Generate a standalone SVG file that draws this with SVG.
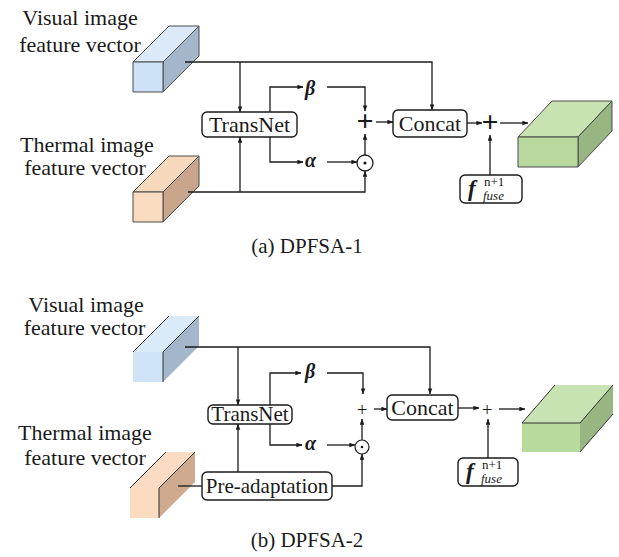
<svg xmlns="http://www.w3.org/2000/svg" width="619" height="557" viewBox="0 0 619 557">
  <style>
    .box { fill: #ffffff; stroke: #1a1a1a; stroke-width: 1.4; }
    .wire { fill: none; stroke: #1a1a1a; stroke-width: 1.3; }
    .arr { fill: none; stroke: #1a1a1a; stroke-width: 1.3; marker-end: url(#head); }
    .edge { stroke: #4a4a4a; stroke-width: 1; stroke-linejoin: round; }
    .edgeb { stroke: #333; stroke-width: 1; fill: none; }
  </style>
  <defs>
    <marker id="head" viewBox="0 0 8 6" refX="7.5" refY="3" markerWidth="6" markerHeight="5" markerUnits="userSpaceOnUse" orient="auto">
      <path d="M0,0 L8,3 L0,6 Z" fill="#1a1a1a"/>
    </marker>
  </defs>

  <rect width="619" height="557" fill="#ffffff"/>

  <!-- ===== (a) DPFSA-1 ===== -->
  <g id="a-labels">
    <text x="80" y="25" text-anchor="middle" fill="#1a1a1a" font-family="Liberation Serif" font-size="22">Visual image</text>
    <text x="80" y="52" text-anchor="middle" fill="#1a1a1a" font-family="Liberation Serif" font-size="22">feature vector</text>
    <text x="87" y="152" text-anchor="middle" fill="#1a1a1a" font-family="Liberation Serif" font-size="22">Thermal image</text>
    <text x="85" y="175" text-anchor="middle" fill="#1a1a1a" font-family="Liberation Serif" font-size="22">feature vector</text>
  </g>

  <g id="a-visual-cube" class="edge">
    <polygon points="133,62 169,26 199,26 163,62" fill="#dbe9f8"/>
    <polygon points="163,62 199,26 199,56 163,92" fill="#a3b6ca"/>
    <rect x="133" y="62" width="30" height="30" fill="#cde2f7"/>
  </g>
  <g id="a-thermal-cube" class="edge">
    <polygon points="133,192 169,156 199,156 163,192" fill="#f6d9bd"/>
    <polygon points="163,192 199,156 199,186 163,222" fill="#c9a58c"/>
    <rect x="133" y="192" width="30" height="30" fill="#f9dcc0"/>
  </g>
  <g id="a-output-cube" class="edge">
    <polygon points="518,137 552,101 612,101 578,137" fill="#c8e2b1"/>
    <polygon points="578,137 612,101 612,131 578,167" fill="#98b682"/>
    <rect x="518" y="137" width="60" height="30" fill="#b9d89e"/>
  </g>

  <g id="a-connectors">
    <path class="arr" d="M185,62 H432 V110"/>
    <path class="arr" d="M240,62 V112"/>
    <path class="arr" d="M188,192 H365 V171"/>
    <path class="arr" d="M240,192 V137"/>
    <path class="arr" d="M270,112 V87 H303"/>
    <path class="arr" d="M270,137 V162 H303"/>
    <path class="arr" d="M327,87 H365 V111"/>
    <path class="arr" d="M327,162 H357"/>
    <path class="arr" d="M365,155 V134"/>
    <path class="arr" d="M376,122 H393"/>
    <path class="arr" d="M467,123 H482"/>
    <path class="arr" d="M500,123 H528"/>
    <path class="arr" d="M490,175 V135"/>
  </g>

  <g id="a-transnet">
    <rect class="box" x="202" y="112" width="95" height="25" rx="5"/>
    <text x="249.5" y="132" text-anchor="middle" fill="#1a1a1a" font-family="Liberation Serif" font-size="22">TransNet</text>
  </g>
  <g id="a-beta"><text x="305" y="95" fill="#1a1a1a" font-family="Liberation Serif" font-size="20" font-weight="bold" font-style="italic">β</text></g>
  <g id="a-alpha"><text x="305" y="167" fill="#1a1a1a" font-family="Liberation Serif" font-size="20" font-weight="bold" font-style="italic">α</text></g>
  <g id="a-plus1"><text x="365" y="131" text-anchor="middle" fill="#1a1a1a" font-family="Liberation Serif" font-size="30" font-weight="bold">+</text></g>
  <g id="a-odot">
    <circle cx="365" cy="163" r="8" fill="#fff" stroke="#1a1a1a" stroke-width="1.3"/>
    <circle cx="365" cy="163" r="1.6" fill="#1a1a1a"/>
  </g>
  <g id="a-concat">
    <rect class="box" x="393" y="110" width="74" height="27" rx="5"/>
    <text x="430" y="131" text-anchor="middle" fill="#1a1a1a" font-family="Liberation Serif" font-size="22">Concat</text>
  </g>
  <g id="a-plus2"><text x="490" y="132" text-anchor="middle" fill="#1a1a1a" font-family="Liberation Serif" font-size="30" font-weight="bold">+</text></g>
  <g id="a-fuse">
    <rect class="box" x="460" y="175" width="62" height="28" rx="5"/>
    <text x="468" y="196" fill="#1a1a1a" font-family="Liberation Serif" font-weight="bold" font-style="italic" font-size="23">f</text>
    <text x="484" y="186" fill="#1a1a1a" font-family="Liberation Serif" font-size="13">n+1</text>
    <text x="483" y="200" fill="#1a1a1a" font-family="Liberation Serif" font-size="13" font-style="italic">fuse</text>
  </g>
  <g id="a-caption">
    <text x="307" y="253" text-anchor="middle" fill="#1a1a1a" font-family="Liberation Serif" font-size="21">(a) DPFSA-1</text>
  </g>

  <!-- ===== (b) DPFSA-2 ===== -->
  <g id="b-labels">
    <text x="86" y="312" text-anchor="middle" fill="#1a1a1a" font-family="Liberation Serif" font-size="22">Visual image</text>
    <text x="84.5" y="335" text-anchor="middle" fill="#1a1a1a" font-family="Liberation Serif" font-size="22">feature vector</text>
    <text x="85" y="440" text-anchor="middle" fill="#1a1a1a" font-family="Liberation Serif" font-size="22">Thermal image</text>
    <text x="85" y="465" text-anchor="middle" fill="#1a1a1a" font-family="Liberation Serif" font-size="22">feature vector</text>
  </g>

  <g id="b-visual-cube">
    <polygon points="133,352 169,316 199,316 163,352" fill="#dbeaf9"/>
    <polygon points="163,352 199,316 199,346 163,382" fill="#a3b6ca"/>
    <rect x="133" y="352" width="30" height="30" fill="#cfe4f9"/>
    <path class="edgeb" d="M133,352 L169,316 M163,352 V382 M163,352 L199,316"/>
  </g>
  <g id="b-thermal-cube">
    <polygon points="130,488 166,452 195,452 159,488" fill="#fbdcc2"/>
    <polygon points="159,488 195,452 195,482 159,518" fill="#d0aa8f"/>
    <rect x="130" y="488" width="29" height="30" fill="#fcdcbf"/>
    <path class="edgeb" d="M130,488 L166,452 M159,488 V518 M159,488 L195,452"/>
  </g>
  <g id="b-output-cube">
    <polygon points="522,423 555,385 613,385 580,423" fill="#c8e2b1"/>
    <polygon points="580,423 613,385 613,414 580,452" fill="#98b682"/>
    <rect x="522" y="423" width="58" height="29" fill="#b9da9d"/>
    <path class="edgeb" d="M522,423 L555,385 M522,423 H580 L613,385 M580,452 L613,414"/>
  </g>

  <g id="b-connectors">
    <path class="arr" d="M185,347 H430 V394"/>
    <path class="arr" d="M238,347 V405"/>
    <path class="arr" d="M270,405 V373 H301"/>
    <path class="arr" d="M270,424 V445 H302"/>
    <path class="arr" d="M327,373 H363 V394"/>
    <path class="arr" d="M327,445 H355"/>
    <path class="arr" d="M362,440 V419"/>
    <path class="arr" d="M374,409 H387"/>
    <path class="arr" d="M458,408 H479"/>
    <path class="arr" d="M499,409 H525"/>
    <path class="arr" d="M488,458 V419"/>
    <path class="wire" d="M178,486 H202"/>
    <path class="arr" d="M238,472 V424"/>
    <path class="arr" d="M332,486 H362 V454"/>
  </g>

  <g id="b-transnet">
    <rect class="box" x="208" y="405" width="84" height="19" rx="5"/>
    <text x="250" y="421" text-anchor="middle" fill="#1a1a1a" font-family="Liberation Serif" font-size="21">TransNet</text>
  </g>
  <g id="b-beta"><text x="305" y="378" fill="#1a1a1a" font-family="Liberation Serif" font-size="20" font-weight="bold" font-style="italic">β</text></g>
  <g id="b-alpha"><text x="305" y="450" fill="#1a1a1a" font-family="Liberation Serif" font-size="20" font-weight="bold" font-style="italic">α</text></g>
  <g id="b-plus1"><text x="362" y="416" text-anchor="middle" fill="#1a1a1a" font-family="Liberation Serif" font-size="19">+</text></g>
  <g id="b-odot">
    <circle cx="362" cy="447" r="7" fill="#fff" stroke="#1a1a1a" stroke-width="1.2"/>
    <circle cx="362" cy="447" r="1.3" fill="#1a1a1a"/>
  </g>
  <g id="b-concat">
    <rect class="box" x="387" y="395" width="71" height="25" rx="5"/>
    <text x="422.5" y="415" text-anchor="middle" fill="#1a1a1a" font-family="Liberation Serif" font-size="22">Concat</text>
  </g>
  <g id="b-plus2"><text x="487" y="416" text-anchor="middle" fill="#1a1a1a" font-family="Liberation Serif" font-size="19">+</text></g>
  <g id="b-fuse">
    <rect class="box" x="458" y="458" width="60" height="28" rx="5"/>
    <text x="466" y="479" fill="#1a1a1a" font-family="Liberation Serif" font-weight="bold" font-style="italic" font-size="23">f</text>
    <text x="482" y="469" fill="#1a1a1a" font-family="Liberation Serif" font-size="13">n+1</text>
    <text x="481" y="483" fill="#1a1a1a" font-family="Liberation Serif" font-size="13" font-style="italic">fuse</text>
  </g>
  <g id="b-preadapt">
    <rect class="box" x="202" y="472" width="130" height="28" rx="5"/>
    <text x="267" y="493" text-anchor="middle" fill="#1a1a1a" font-family="Liberation Serif" font-size="21">Pre-adaptation</text>
  </g>
  <g id="b-caption">
    <text x="307" y="547" text-anchor="middle" fill="#1a1a1a" font-family="Liberation Serif" font-size="21">(b) DPFSA-2</text>
  </g>
</svg>
